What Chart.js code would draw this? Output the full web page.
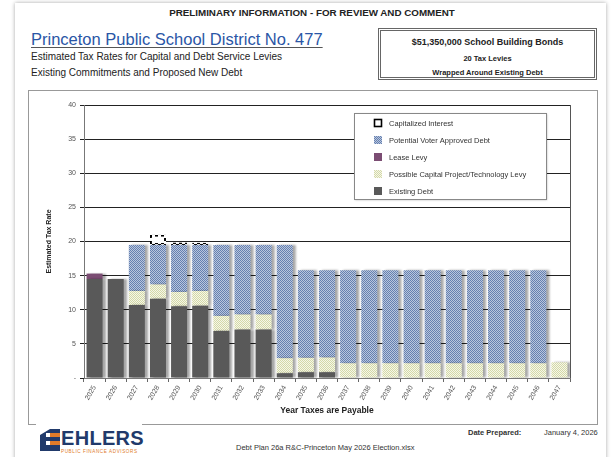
<!DOCTYPE html>
<html>
<head>
<meta charset="utf-8">
<script src="https://cdn.jsdelivr.net/npm/chart.js@4.4.1/dist/chart.umd.min.js"></script>
<style>
  body{margin:0;background:#fff;width:612px;height:457px;overflow:hidden;position:relative;
       font-family:"Liberation Sans",Arial,sans-serif;color:#222}
  .page{position:absolute;left:15px;top:3px;width:591px;height:470px;box-shadow:0 0 4px rgba(0,0,0,.35);background:#fff}
  .narrow{font-family:"Liberation Sans Narrow","Arial Narrow","Liberation Sans",sans-serif}
  #prelim{position:absolute;left:0;width:624px;top:7px;text-align:center;font-weight:bold;font-size:9.8px}
  #title{position:absolute;left:31px;top:30px;font-size:16.5px;color:#2a56a6;text-decoration:underline;text-decoration-color:#555;text-underline-offset:2px}
  #sub1{position:absolute;left:31px;top:51px;font-size:10px}
  #sub2{position:absolute;left:31px;top:67px;font-size:10px}
  #infobox{position:absolute;left:378px;top:28px;width:213px;height:46px;border:3px double #666;text-align:center;font-weight:bold}
  #infobox div{position:absolute;left:0;right:0}
  #frame{position:absolute;left:28px;top:90px;width:568px;height:333px;border:1px solid #999}
  #logo{position:absolute;left:36px;top:424px;width:106px;height:32px;background:#fff}
  #foot{position:absolute;left:236px;top:443px;font-size:7.5px;color:#333}
  #dprep{position:absolute;left:468px;top:428px;font-size:7.5px;font-weight:bold;color:#333}
  #ddate{position:absolute;left:544px;top:428px;font-size:7.5px;color:#333}
</style>
</head>
<body>
<div class="page"></div>
<div id="prelim" class="narrow">PRELIMINARY INFORMATION - FOR REVIEW AND COMMENT</div>
<div id="title" class="narrow">Princeton Public School District No. 477</div>
<div id="sub1" class="narrow">Estimated Tax Rates for Capital and Debt Service Levies</div>
<div id="sub2" class="narrow">Existing Commitments and Proposed New Debt</div>
<div id="infobox" class="narrow">
  <div style="top:6px;font-size:9px">$51,350,000 School Building Bonds</div>
  <div style="top:23px;font-size:7.5px">20 Tax Levies</div>
  <div style="top:37px;font-size:7.5px">Wrapped Around Existing Debt</div>
</div>
<div id="frame"><canvas id="chart" width="568" height="333"></canvas></div>
<div id="logo">
  <svg width="24" height="26" style="position:absolute;left:2px;top:3px">
    <polygon points="2,8 12,2 22,2 22,6 8,6 8,10 22,10 22,14 8,14 8,18 22,18 22,24 2,24" fill="#213a6b"/>
    <polygon points="12,6 22,6 22,10 12,10" fill="#e07b2a"/>
    <polygon points="12,14 22,14 22,18 12,18" fill="#e07b2a"/>
  </svg>
  <div style="position:absolute;left:25px;top:3px;font-size:20px;font-weight:bold;color:#213a6b;letter-spacing:.3px">EHLERS</div>
  <div style="position:absolute;left:25px;top:25px;font-size:4.6px;color:#e07b2a;letter-spacing:.6px">PUBLIC FINANCE ADVISORS</div>
</div>
<div id="foot">Debt Plan 26a R&amp;C-Princeton May 2026 Election.xlsx</div>
<div id="dprep">Date Prepared:</div>
<div id="ddate">January 4, 2026</div>

<script>
/* -----------------------
   Data
   ----------------------- */
const years = ['2025','2026','2027','2028','2029','2030','2031','2032','2033','2034','2035','2036',
               '2037','2038','2039','2040','2041','2042','2043','2044','2045','2046','2047'];
const existingDebt = [14.5, 14.5, 10.7, 11.6, 10.5, 10.6, 6.9, 7.1, 7.1, 0.7, 0.85, 0.85,
                      0, 0, 0, 0, 0, 0, 0, 0, 0, 0, 0];
const capitalLevy  = [0, 0, 2.05, 2.1, 2.1, 2.15, 2.2, 2.2, 2.2, 2.2, 2.1, 2.15,
                      2.15, 2.15, 2.15, 2.15, 2.15, 2.15, 2.15, 2.15, 2.15, 2.15, 2.3];
const leaseLevy    = [0.8, 0, 0, 0, 0, 0, 0, 0, 0, 0, 0, 0,
                      0, 0, 0, 0, 0, 0, 0, 0, 0, 0, 0];
const voterDebt    = [0, 0, 6.75, 5.8, 6.9, 6.75, 10.4, 10.2, 10.2, 16.6, 12.85, 12.8,
                      13.65, 13.65, 13.65, 13.65, 13.65, 13.65, 13.65, 13.65, 13.65, 13.65, 0];
const capInterest  = [0, 0, 0, 1.5, 0.35, 0.3, 0, 0, 0, 0, 0, 0,
                      0, 0, 0, 0, 0, 0, 0, 0, 0, 0, 0];
const yMax = 40, yStep = 5;

/* -----------------------
   Fill patterns (dotted look of the Excel chart)
   ----------------------- */
function dotPattern(a, b){
  const c = document.createElement('canvas');
  c.width = c.height = 2;
  const x = c.getContext('2d');
  x.fillStyle = b; x.fillRect(0,0,2,2);
  x.fillStyle = a; x.fillRect(0,0,1,1); x.fillRect(1,1,1,1);
  return x.createPattern(c, 'repeat');
}
function dashPattern(){
  const c = document.createElement('canvas');
  c.width = c.height = 6;
  const x = c.getContext('2d');
  x.fillStyle = '#fff'; x.fillRect(0,0,6,6);
  x.fillStyle = '#000'; x.fillRect(0,0,3,3); x.fillRect(3,3,3,3);
  return x.createPattern(c, 'repeat');
}
const blueFill = dotPattern('#6580b0', '#b9c6dd');
const paleFill = dotPattern('#d3d8a8', '#f6f7e8');

/* -----------------------
   Plugins: bar shadow, plot border, legend box
   ----------------------- */
const barShadow = {
  id: 'barShadow',
  beforeDatasetDraw(chart, args){
    chart.ctx.save();
    if(args.index !== 4){
      chart.ctx.shadowColor = 'rgba(0,0,0,0.35)';
      chart.ctx.shadowOffsetX = 3;
      chart.ctx.shadowBlur = 2;
    }
  },
  afterDatasetDraw(chart){ chart.ctx.restore(); }
};

const plotBorder = {
  id: 'plotBorder',
  beforeDatasetsDraw(chart){
    const {ctx, chartArea:a} = chart;
    ctx.save();
    ctx.strokeStyle = '#555';
    ctx.lineWidth = 1;
    ctx.beginPath();
    ctx.moveTo(Math.round(a.right)+0.5, a.top);
    ctx.lineTo(Math.round(a.right)+0.5, a.bottom);
    ctx.stroke();
    ctx.restore();
  }
};

const boxLegend = {
  id: 'boxLegend',
  afterDraw(chart){
    const {ctx, chartArea:a} = chart;
    const bx = a.left + 270, by = a.top + 8, bw = 192, bh = 86;
    ctx.save();
    ctx.shadowColor = 'rgba(0,0,0,0.3)';
    ctx.shadowOffsetX = 1; ctx.shadowOffsetY = 1; ctx.shadowBlur = 2;
    ctx.fillStyle = '#fff';
    ctx.fillRect(bx, by, bw, bh);
    ctx.restore();
    ctx.save();
    ctx.strokeStyle = '#888';
    ctx.strokeRect(bx+0.5, by+0.5, bw, bh);
    ctx.font = '7.5px "Liberation Sans", Arial, sans-serif';
    ctx.textBaseline = 'middle';
    const ds = chart.data.datasets.slice().reverse();
    ds.forEach((d, i) => {
      const y = by + 10 + i*17;
      if(d.label === 'Capitalized Interest'){
        ctx.fillStyle = '#fff';
        ctx.fillRect(bx+20, y-4, 8, 8);
        ctx.strokeStyle = '#000'; ctx.lineWidth = 1.6;
        ctx.strokeRect(bx+20.5, y-3.5, 7, 7);
      } else {
        ctx.fillStyle = d.backgroundColor;
        ctx.fillRect(bx+20, y-4, 8, 8);
      }
      ctx.fillStyle = '#333';
      ctx.fillText(d.label, bx+35, y+0.5);
    });
    ctx.restore();
  }
};

/* -----------------------
   Chart
   ----------------------- */
const ctx = document.getElementById('chart').getContext('2d');
const common = {barPercentage: 0.76, categoryPercentage: 1, borderWidth: 0};

new Chart(ctx, {
  type: 'bar',
  data: {
    labels: years,
    datasets: [
      {...common, label: 'Existing Debt', data: existingDebt, backgroundColor: '#595959'},
      {...common, label: 'Possible Capital Project/Technology Levy', data: capitalLevy, backgroundColor: paleFill},
      {...common, label: 'Lease Levy', data: leaseLevy, backgroundColor: '#7b4d73'},
      {...common, label: 'Potential Voter Approved Debt', data: voterDebt, backgroundColor: blueFill},
      {...common, label: 'Capitalized Interest', data: capInterest, backgroundColor: '#fff',
        borderColor: dashPattern(), borderWidth: 2, borderSkipped: false}
    ]
  },
  options: {
    responsive: false,
    animation: false,
    layout: {padding: {left: 0, top: 14, right: 27, bottom: 0}},
    plugins: {legend: {display: false}, tooltip: {enabled: false}},
    scales: {
      x: {
        stacked: true,
        offset: true,
        afterFit: s => { s.height = 46; },
        grid: {display: true, drawOnChartArea: false, offset: true, tickLength: 4, color: '#666'},
        border: {color: '#777'},
        ticks: {color: '#555', font: {size: 7, family: '"Liberation Sans", Arial'},
                maxRotation: 60, minRotation: 60, padding: 2, autoSkip: false},
        title: {display: true, text: 'Year Taxes are Payable', color: '#222',
                font: {size: 8.5, weight: 'bold', family: '"Liberation Sans", Arial'},
                padding: {top: 0, bottom: 8}}
      },
      y: {
        stacked: true,
        min: 0, max: yMax,
        afterFit: s => { s.width = 55; },
        grid: {color: '#222', lineWidth: 1, tickLength: 4},
        border: {color: '#777'},
        ticks: {stepSize: yStep, color: '#555', padding: 4,
                font: {size: 7, family: '"Liberation Sans", Arial'},
                callback: v => v === 0 ? '-' : v},
        title: {display: true, text: 'Estimated Tax Rate', color: '#222',
                font: {size: 7, weight: 'bold', family: '"Liberation Sans", Arial'},
                padding: {top: 16, bottom: 0}}
      }
    }
  },
  plugins: [plotBorder, barShadow, boxLegend]
});
</script>
</body>
</html>
